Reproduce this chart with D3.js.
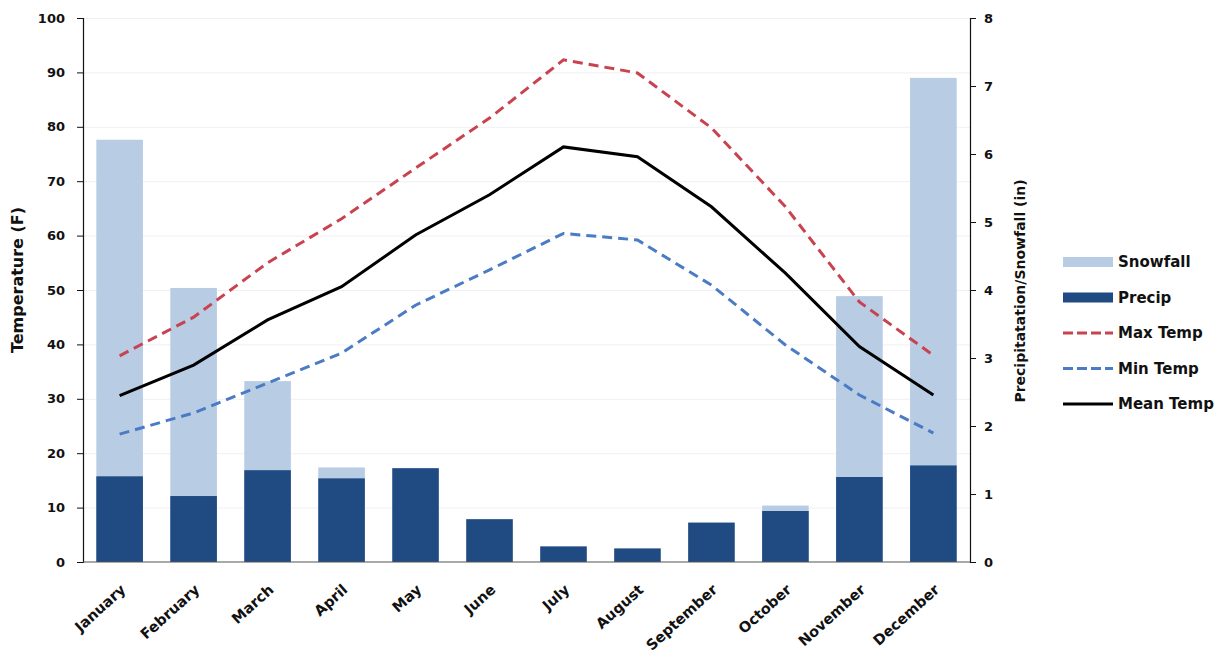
<!DOCTYPE html>
<html>
<head>
<meta charset="utf-8">
<script src="https://cdn.jsdelivr.net/npm/d3@7"></script>
<style>
  body { margin: 0; background: #fff; }
  text { font-family: "DejaVu Sans", sans-serif; font-weight: 700; fill: #111; }
</style>
</head>
<body>
<div id="chart"></div>
<script>
// months on the x axis
var months = ["January", "February", "March", "April", "May", "June", "July",
  "August", "September", "October", "November", "December"];

// precipitation / snowfall (in), right axis
var precip = [1.26, 0.97, 1.35, 1.23, 1.38, 0.63, 0.23, 0.20, 0.58, 0.75, 1.25, 1.42];
var snowfall = [6.21, 4.03, 2.66, 1.39, 0, 0, 0, 0, 0, 0.83, 3.91, 7.12];

// temperatures (F), left axis
var maxTemp = [37.9, 45.0, 55.0, 63.1, 72.4, 81.6, 92.3, 89.9, 79.8, 65.3, 47.8, 38.0];
var meanTemp = [30.6, 36.2, 44.5, 50.6, 60.1, 67.5, 76.3, 74.5, 65.3, 53.1, 39.6, 30.7];
var minTemp = [23.5, 27.4, 32.9, 38.4, 47.2, 53.7, 60.4, 59.2, 50.9, 39.9, 30.7, 23.7];

var leftTicks = [0, 10, 20, 30, 40, 50, 60, 70, 80, 90, 100];
var rightTicks = [0, 1, 2, 3, 4, 5, 6, 7, 8];

//Width and height
var w = 1217;
var h = 652;
var plotLeft = 83, plotRight = 970, plotTop = 18, plotBottom = 562;

var svg = d3.select("#chart").append("svg")
  .attr("width", w)
  .attr("height", h);

var x = d3.scaleBand().domain(months).range([plotLeft, plotRight]).paddingInner(0.37).paddingOuter(0.18);
var yT = d3.scaleLinear().domain([0, 100]).range([plotBottom, plotTop]);
var yP = d3.scaleLinear().domain([0, 8]).range([plotBottom, plotTop]);

// faint gridlines
svg.append("g")
  .selectAll("line")
  .data(leftTicks.slice(1))
  .enter()
  .append("line")
  .attr("x1", plotLeft).attr("x2", plotRight)
  .attr("y1", function(d) { return yT(d) + 0.5; })
  .attr("y2", function(d) { return yT(d) + 0.5; })
  .attr("stroke", "#f0f0f0");

// snowfall bars (behind)
svg.append("g")
  .selectAll("rect")
  .data(months)
  .enter()
  .append("rect")
  .attr("x", function(d) { return x(d); })
  .attr("width", x.bandwidth())
  .attr("y", function(d, i) { return yP(snowfall[i]); })
  .attr("height", function(d, i) { return plotBottom - yP(snowfall[i]); })
  .attr("fill", "#b8cce4");

// precip bars
svg.append("g")
  .selectAll("rect")
  .data(months)
  .enter()
  .append("rect")
  .attr("x", function(d) { return x(d); })
  .attr("width", x.bandwidth())
  .attr("y", function(d, i) { return yP(precip[i]); })
  .attr("height", function(d, i) { return plotBottom - yP(precip[i]); })
  .attr("fill", "#1f4a82");

// temperature lines
var lines = [
  { data: maxTemp, color: "#c9424f", dash: "10,6" },
  { data: minTemp, color: "#4a7bc4", dash: "10,6" },
  { data: meanTemp, color: "#000000", dash: null }
];

var line = d3.line()
  .x(function(d, i) { return x(months[i]) + x.bandwidth() / 2; })
  .y(function(d) { return yT(d); });

lines.forEach(function(l) {
  svg.append("path")
    .datum(l.data)
    .attr("d", line)
    .attr("fill", "none")
    .attr("stroke", l.color)
    .attr("stroke-width", 3)
    .attr("stroke-dasharray", l.dash);
});

// axes
var leftAxis = svg.append("g")
  .attr("transform", "translate(" + plotLeft + ",0)")
  .call(d3.axisLeft(yT).tickValues(leftTicks).tickSize(6).tickPadding(12));

var rightAxis = svg.append("g")
  .attr("transform", "translate(" + plotRight + ",0)")
  .call(d3.axisRight(yP).tickValues(rightTicks).tickSize(6).tickPadding(8));

[leftAxis, rightAxis].forEach(function(a) {
  a.select(".domain").attr("stroke", "#111").attr("stroke-width", 1.2);
  a.selectAll(".tick line").attr("stroke", "#111");
  a.selectAll(".tick text").style("font-size", "13px").style("font-weight", 700)
    .style("font-family", "'DejaVu Sans', sans-serif").attr("fill", "#111");
});

// x axis baseline
svg.append("line")
  .attr("x1", plotLeft).attr("x2", plotRight)
  .attr("y1", plotBottom).attr("y2", plotBottom)
  .attr("stroke", "#555")
  .attr("stroke-width", 1.2);

// month labels
svg.append("g")
  .selectAll("text")
  .data(months)
  .enter()
  .append("text")
  .attr("transform", function(d) {
    return "translate(" + (x(d) + x.bandwidth() / 2 + 7) + "," + (plotBottom + 29) + ") rotate(-42)";
  })
  .attr("text-anchor", "end")
  .style("font-size", "14.5px")
  .text(function(d) { return d; });

// axis titles
svg.append("text")
  .attr("transform", "translate(23,280) rotate(-90)")
  .attr("text-anchor", "middle")
  .style("font-size", "16px")
  .text("Temperature (F)");

svg.append("text")
  .attr("transform", "translate(1025,291) rotate(-90)")
  .attr("text-anchor", "middle")
  .style("font-size", "14px")
  .text("Precipitatation/Snowfall (in)");

// legend
var legendItems = [
  { label: "Snowfall", color: "#b8cce4", type: "rect" },
  { label: "Precip", color: "#1f4a82", type: "rect" },
  { label: "Max Temp", color: "#c9424f", type: "dash" },
  { label: "Min Temp", color: "#4a7bc4", type: "dash" },
  { label: "Mean Temp", color: "#000000", type: "line" }
];

var legend = svg.append("g").attr("transform", "translate(1063,262)");

legendItems.forEach(function(d, i) {
  var g = legend.append("g").attr("transform", "translate(0," + (i * 35.5) + ")");
  if (d.type == "rect") {
    g.append("rect").attr("x", 0).attr("y", -5).attr("width", 50).attr("height", 10).attr("fill", d.color);
  } else {
    g.append("line").attr("x1", 0).attr("x2", 50).attr("y1", 0).attr("y2", 0)
      .attr("stroke", d.color).attr("stroke-width", 3)
      .attr("stroke-dasharray", d.type == "dash" ? "10,4" : null);
  }
  g.append("text")
    .attr("x", 55)
    .attr("y", 0)
    .attr("dy", "0.35em")
    .style("font-size", "15px")
    .text(d.label);
});
</script>
</body>
</html>
